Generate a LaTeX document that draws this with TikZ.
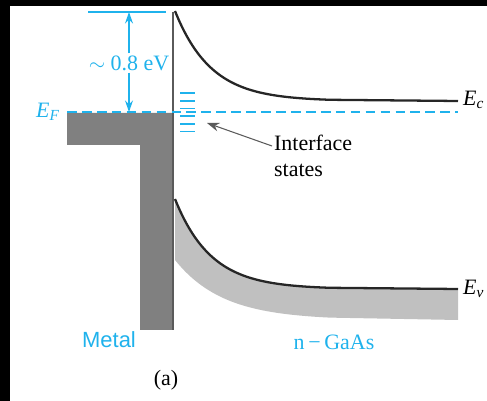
\documentclass[tikz,border=0pt]{standalone}
\usepackage{fontspec}
\setmainfont{Liberation Serif}
\setsansfont{Liberation Sans}
\usetikzlibrary{arrows.meta,positioning}
\definecolor{levelcyan}{HTML}{1FB2EC}
\definecolor{metalgray}{HTML}{808080}
\definecolor{bandgray}{HTML}{C0C0C0}
\definecolor{edgegray}{HTML}{5A5A5A}

\begin{document}
\begin{tikzpicture}[x=0.02cm,y=-0.02cm,
    level/.style={levelcyan,line width=0.8pt},
    band/.style={black!85,line width=1.3pt},
    lbl/.style={font=\fontsize{12.5}{15}\selectfont,inner sep=1pt},
    pointer/.style={edgegray,line width=0.6pt,-{Stealth[length=7pt,width=5pt]}}]
    \useasboundingbox (0,0) rectangle (487,401);
    \fill[black] (0,0) rectangle (487,6);
    \fill[black] (0,0) rectangle (10,401);
    \fill[metalgray] (67,113) -- (173,113) -- (173,330) -- (140,330) -- (140,145) -- (67,145) -- cycle;
    \fill[bandgray] plot[domain=0:155,samples=70] ({175+\x},{289-90*exp(-\x/36)}) -- (458,289)
      -- (458,320) -- plot[domain=155:0,samples=70] ({175+\x},{320-60*exp(-\x/48)}) -- cycle;
    \draw[edgegray,line width=0.9pt] (173,12) -- (173,330);
    \draw[band] plot[domain=0:155,samples=70] ({175+\x},{101-90*exp(-\x/36)}) -- (458,101);
    \draw[band] plot[domain=0:155,samples=70] ({175+\x},{289-90*exp(-\x/36)}) -- (458,289);
    \draw[level,dash pattern=on 5.5pt off 3pt] (67,112) -- (458,112);
    \draw[level] (88,12) -- (166,12);
    \foreach \y in {93,100.7,108.4,116.1,123.8,131.5}
      \draw[level,line width=1pt] (180,\y) -- (195,\y);
    \node[lbl,levelcyan] (ef) at (48,112) {\textit{E}\textsubscript{\textit{F}}};
    \node[lbl,levelcyan,fill=white] (gap) at (129,63) {$\sim$ 0.8 eV};
    \coordinate (gaptop) at (129,12);
    \coordinate (gapbot) at (129,112);
    \draw[level,-{Stealth[length=6.5pt,width=4.5pt]}] (gap) -- (gaptop);
    \draw[level,-{Stealth[length=6.5pt,width=4.5pt]}] (gap) -- (gapbot);
    \node[lbl,align=left,anchor=west] (intf) at (272,156) {Interface\\states};
    \coordinate (istate) at (207,123);
    \draw[pointer] ([yshift=0.2cm]intf.west) -- (istate);
    \node[lbl,anchor=west] (ec) at (461,100) {\textit{E}\textsubscript{\textit{c}}};
    \node[lbl,anchor=west] (ev) at (461,289) {\textit{E}\textsubscript{\textit{v}}};
    \node[lbl,levelcyan,font=\fontsize{12.5}{15}\sffamily] (metal) at (109,340) {Metal};
    \node[lbl,levelcyan] (gaas) at (334,342) {n\,−\,GaAs};
    \node[lbl] (fig) at (166,380) {(a)};
  \end{tikzpicture}
\end{document}
